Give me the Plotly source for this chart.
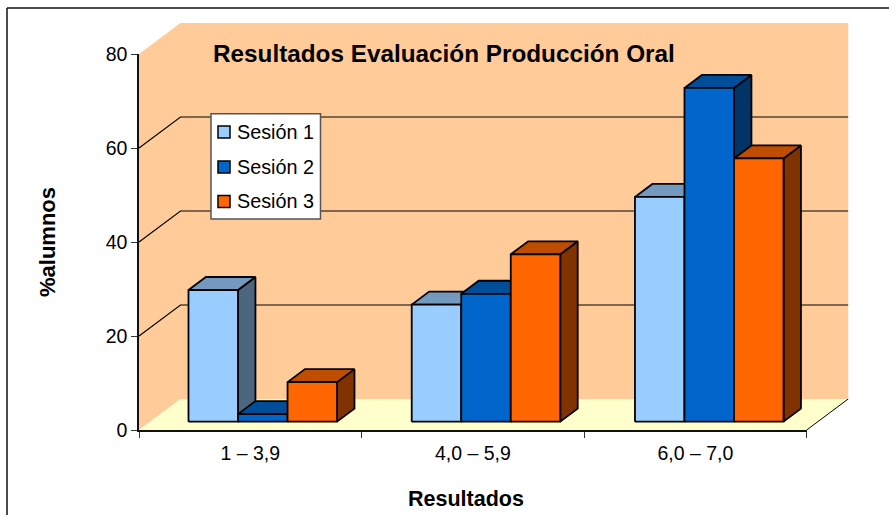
import plotly.graph_objects as go

# ---- data ----
categories = ["1 – 3,9", "4,0 – 5,9", "6,0 – 7,0"]
series_names = ["Sesión 1", "Sesión 2", "Sesión 3"]
sesion_1 = [28.0, 24.9, 47.8]
sesion_2 = [1.6, 27.2, 71.0]
sesion_3 = [8.4, 35.6, 56.0]
y_ticks = [0, 20, 40, 60, 80]
grid_values = [20, 40, 60]
title_text = "Resultados Evaluación Producción Oral"
x_title = "Resultados"
y_title = "%alumnos"

# ---- geometry & style ----
W, H = 889, 515
L, R, T, B = 139.0, 806.7, 54.0, 430.0
Y_MAX = 80.0
N = len(categories)
R_EXT, T_EXT = 860.0, 15.0      # room of the marks' subplot for the depth of the box
X_EXT = N * (R_EXT - L) / (R - L)
Y_EXT = Y_MAX * (B - T_EXT) / (B - T)
DX = 41.5 / ((R - L) / N)      # full floor depth in category units
DY = 31.0 / ((B - T) / Y_MAX)  # full floor depth in value units
BAR_W = 0.2225
BAR_START = 0.172
GROUP_STEP = 1.003
D_FRONT, D_BACK = 0.27, 0.69

FONT = "Liberation Sans, Arial, sans-serif"
palette = [
    ("#99CCFF", "#7399BF", "#4D6680"),
    ("#0066CC", "#004D99", "#003366"),
    ("#FF6600", "#BF4D00", "#803300"),
]


def P(x, v, d):
    """Oblique projection: category coordinate, value, depth fraction."""
    return x + DX * d, v + DY * d


def poly(points, fill, line_w=1.8, line="#000000"):
    xs = [p[0] for p in points] + [points[0][0]]
    ys = [p[1] for p in points] + [points[0][1]]
    return go.Scatter(
        x=xs, y=ys, mode="lines", fill="toself", fillcolor=fill,
        line=dict(color=line, width=line_w), cliponaxis=False,
        showlegend=False, hoverinfo="skip",
    )


def path(points, color="#000000", width=1.0):
    return go.Scatter(
        x=[p[0] for p in points], y=[p[1] for p in points], mode="lines",
        line=dict(color=color, width=width), cliponaxis=False,
        showlegend=False, hoverinfo="skip",
    )


fig = go.Figure()

# walls and floor
WALL, FLOOR = "#FFCC99", "#FFFFCC"
fig.add_trace(poly([P(0, 0, 0), P(0, Y_MAX, 0), P(0, Y_MAX, 1), P(N, Y_MAX, 1), P(N, 0, 1), P(0, 0, 1)],
                   WALL, 0, WALL))
fig.add_trace(poly([P(0, 0, 0), P(N, 0, 0), P(N, 0, 1), P(0, 0, 1)], FLOOR, 0, FLOOR))
fig.add_trace(path([P(N, 0, 0), P(N, 0, 1)], "#000000", 1.0))

# gridlines
for g in grid_values:
    fig.add_trace(path([P(0, g, 0), P(0, g, 1), P(N, g, 1)], "#000000", 1.2))

# bars
all_series = [sesion_1, sesion_2, sesion_3]
for c in range(N):
    for s, values in enumerate(all_series):
        v = values[c]
        x0 = c * GROUP_STEP + BAR_START + s * BAR_W
        x1 = x0 + BAR_W
        front, top, side = palette[s]
        fig.add_trace(poly([P(x1, 0, D_FRONT), P(x1, v, D_FRONT), P(x1, v, D_BACK), P(x1, 0, D_BACK)], side))
        fig.add_trace(poly([P(x0, v, D_FRONT), P(x1, v, D_FRONT), P(x1, v, D_BACK), P(x0, v, D_BACK)], top))
        fig.add_trace(poly([P(x0, 0, D_FRONT), P(x1, 0, D_FRONT), P(x1, v, D_FRONT), P(x0, v, D_FRONT)], front))

# visible axes live on a second subplot drawn above the marks
fig.add_trace(go.Scatter(x=[0], y=[0], mode="none", xaxis="x2", yaxis="y2",
                         showlegend=False, hoverinfo="skip"))


def px(x):
    return x / W


def py(y):
    return 1 - y / H


shapes = [
    dict(type="line", xref="paper", yref="paper", x0=px(7), x1=px(889), y0=py(8), y1=py(8),
         line=dict(color="#111111", width=1.5)),
    dict(type="line", xref="paper", yref="paper", x0=px(7), x1=px(7), y0=py(8), y1=py(515),
         line=dict(color="#111111", width=1.5)),
    # legend box
    dict(type="rect", xref="paper", yref="paper", x0=px(211), x1=px(320.5), y0=py(113.7), y1=py(219),
         fillcolor="#FFFFFF", line=dict(color="#555555", width=1.5), layer="above"),
]
annotations = [
    dict(text="<b>" + title_text + "</b>", x=px(443.5), y=py(54), xref="paper", yref="paper", showarrow=False,
         xanchor="center", yanchor="middle", font=dict(family=FONT, size=24.3, color="#000000")),
    dict(text="<b>" + x_title + "</b>", x=px(466), y=py(499), xref="paper", yref="paper", showarrow=False,
         xanchor="center", yanchor="middle", font=dict(family=FONT, size=21.5, color="#000000")),
    dict(text="<b>" + y_title + "</b>", x=px(48), y=py(242), xref="paper", yref="paper", showarrow=False,
         textangle=-90, xanchor="center", yanchor="middle", font=dict(family=FONT, size=22, color="#000000")),
]

legend_rows = [132.0, 167.0, 201.5]
for name, (front, _, _), row in zip(series_names, palette, legend_rows):
    shapes.append(dict(type="rect", xref="paper", yref="paper", x0=px(218), x1=px(230),
                       y0=py(row - 6), y1=py(row + 6), fillcolor=front,
                       line=dict(color="#000000", width=1.5), layer="above"))
    annotations.append(dict(text=name, x=px(235), y=py(row), xref="paper", yref="paper", showarrow=False,
                            xanchor="left", yanchor="middle",
                            font=dict(family=FONT, size=19.8, color="#000000")))

fig.update_layout(
    width=W, height=H, autosize=False,
    margin=dict(l=0, r=0, t=0, b=0, pad=0, autoexpand=False),
    paper_bgcolor="#FFFFFF", plot_bgcolor="rgba(0,0,0,0)",
    showlegend=False, hovermode=False,
    shapes=shapes, annotations=annotations,
    # marks' subplot: same scale as the visible axes, extended for the depth of the box
    xaxis=dict(domain=[L / W, R_EXT / W], range=[0, X_EXT], visible=False),
    yaxis=dict(domain=[1 - B / H, 1 - T_EXT / H], range=[0, Y_EXT], visible=False),
    # visible axes
    xaxis2=dict(
        domain=[L / W, R / W], range=[0, N], anchor="y2", showgrid=False, zeroline=False,
        showline=True, linecolor="#111111", linewidth=1.5,
        tickmode="array", tickvals=[i + 0.5 for i in range(N)], ticktext=categories,
        ticks="outside", ticklen=5, tickcolor="rgba(0,0,0,0)",
        tickfont=dict(family=FONT, size=19.5, color="#000000"),
        minor=dict(tickmode="array", tickvals=list(range(N + 1)), ticks="outside", ticklen=6,
                   tickcolor="#333333", tickwidth=1),
    ),
    yaxis2=dict(
        domain=[1 - B / H, 1 - T / H], range=[0, Y_MAX], anchor="x2", showgrid=False, zeroline=False,
        showline=True, linecolor="#111111", linewidth=1.5,
        tickmode="array", tickvals=y_ticks, ticks="outside", ticklen=6, tickwidth=1, tickcolor="#333333",
        tickfont=dict(family=FONT, size=19.5, color="#000000"),
    ),
)

fig.write_html("out.html", config={"displayModeBar": False},
               post_script="document.body.style.margin='0';")
